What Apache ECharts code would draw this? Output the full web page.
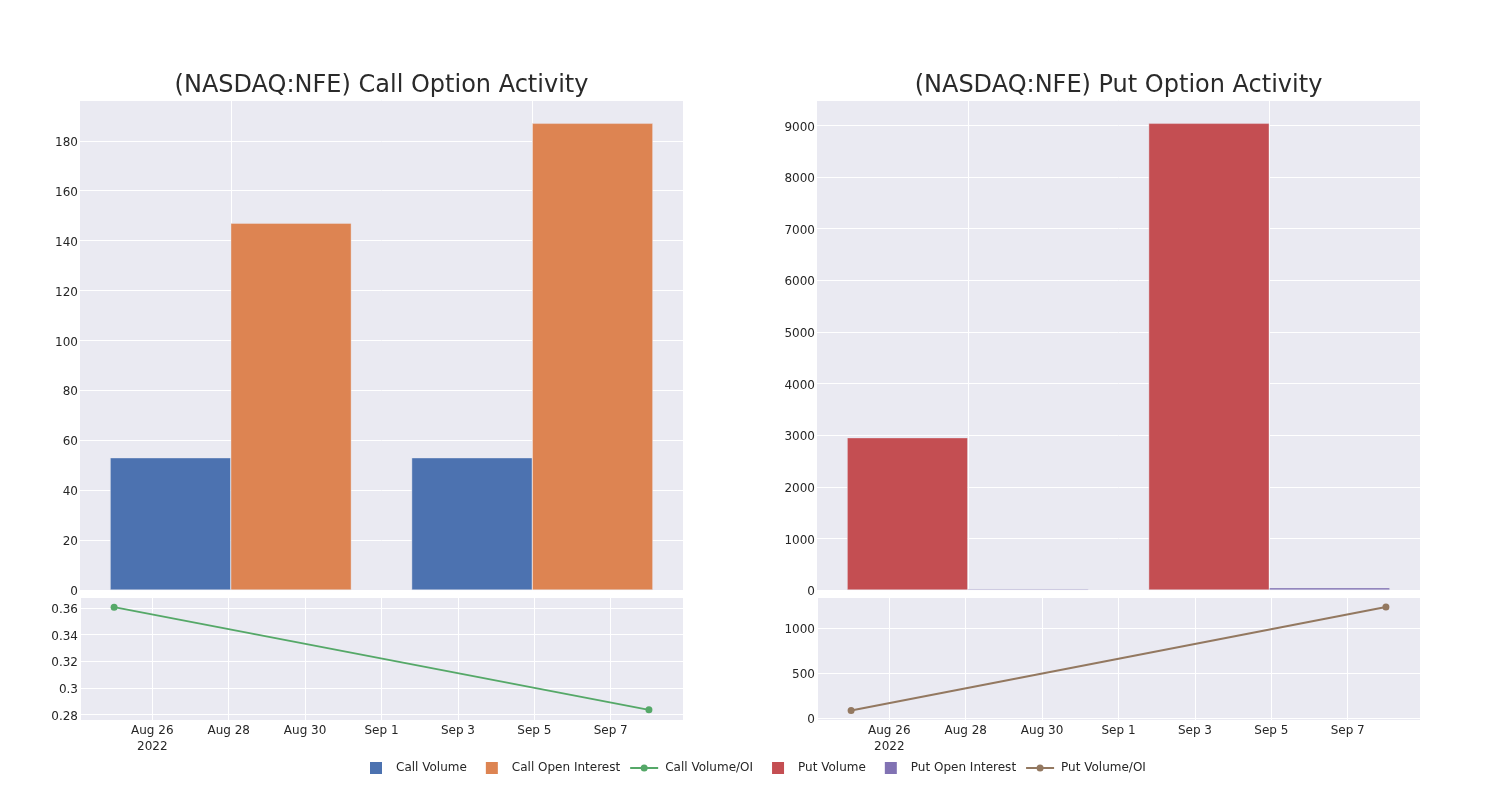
<!DOCTYPE html>
<html>
<head>
<meta charset="utf-8">
<script src="https://cdn.jsdelivr.net/npm/echarts@6/dist/echarts.min.js"></script>
<style>html,body{margin:0;padding:0;background:#fff;}#chart{width:1500px;height:800px;}</style>
</head>
<body>
<div id="chart"></div>
<script>
// ---- data ----
const barDates = ['2022-08-25', '2022-09-08'];
const callVolume = [53, 53];
const callOpenInterest = [147, 187];
const putVolume = [2950, 9040];
const putOpenInterest = [20, 45];
const lineDates = ['2022-08-25', '2022-09-08'];
const callVolumeOI = [0.3605, 0.2834];
const putVolumeOI = [85, 1233];
const titles = ['(NASDAQ:NFE) Call Option Activity', '(NASDAQ:NFE) Put Option Activity'];
const monthNames = ['Jan','Feb','Mar','Apr','May','Jun','Jul','Aug','Sep','Oct','Nov','Dec'];

// ---- helpers ----
const BASE = Date.UTC(2022, 7, 26);
const DAY = 86400000;
function dayOffset(s) { const p = s.split('-'); return (Date.UTC(+p[0], +p[1] - 1, +p[2]) - BASE) / DAY; }
function dateLabel(v) {
  if (Math.abs(v - Math.round(v)) > 1e-6) return '';
  const d = new Date(BASE + Math.round(v) * DAY);
  let s = monthNames[d.getUTCMonth()] + ' ' + d.getUTCDate();
  if (Math.round(v) === 0) s += '\n' + d.getUTCFullYear();
  return s;
}
function numLabel(v) { return String(+v.toPrecision(10)); }
const FONT = 'DejaVu Sans';
const TXT = '#262626';
const BG = '#eaeaf2';
const colors = { cv: '#4c72b0', coi: '#dd8452', cr: '#55a868', pv: '#c44e52', poi: '#8172b3', pr: '#937860' };

const lineX = lineDates.map(dayOffset);
const xMin = -1.893, xMax = 13.892;

const grids = [
  { left: 80, top: 100, width: 603, height: 490 },
  { left: 80, top: 597, width: 603, height: 123 },
  { left: 817, top: 100, width: 603, height: 490 },
  { left: 817, top: 597, width: 603, height: 123 }
].map(g => Object.assign(g, { show: true, backgroundColor: BG, borderWidth: 0, containLabel: false }));

const splitWhite = { show: true, lineStyle: { color: '#ffffff', width: 1 } };
const hidden = { axisLine: { show: false }, axisTick: { show: false }, axisLabel: { show: false } };

function barCatAxis(gi) {
  return Object.assign({ type: 'category', gridIndex: gi, data: barDates, boundaryGap: true, splitLine: { show: false } }, hidden);
}
function barGridAxis(gi) {
  return Object.assign({ type: 'category', gridIndex: gi, data: ['a','b','c','d','e'], boundaryGap: false,
    splitLine: { show: true, interval: (i) => i === 1 || i === 3, lineStyle: { color: '#ffffff', width: 1 } } }, hidden);
}
function timeAxis(gi) {
  return {
    type: 'value', gridIndex: gi, min: xMin, max: xMax, splitNumber: 8,
    axisLine: { show: false }, axisTick: { show: false },
    splitLine: splitWhite,
    axisLabel: { show: true, showMinLabel: false, showMaxLabel: false, margin: 3, color: TXT, fontFamily: FONT, fontSize: 12, lineHeight: 16, formatter: dateLabel }
  };
}
function yAxis(gi, opts, hideMin) {
  return Object.assign({
    type: 'value', gridIndex: gi,
    axisLine: { show: false }, axisTick: { show: false },
    splitLine: splitWhite,
    axisLabel: { show: true, showMinLabel: hideMin ? false : null, showMaxLabel: false, margin: 2,
      color: TXT, fontFamily: FONT, fontSize: 12, formatter: (v) => '{n|' + numLabel(v) + '}',
      rich: { n: { fontFamily: FONT, fontSize: 12, color: TXT, padding: [4, 0, 0, 0] } } }
  }, opts);
}
// legend icons: 30x12 box, square offset inside box; line spans 28px with a dot
const SQ = 'path://M0,0M30,12M9,0h12v12h-12z';
const LN = 'path://M0,0M30,12M0,5.1h10.6v1.8h-10.6zM17.4,5.1h10.6v1.8h-10.6zM10.5,6a3.5,3.5 0 1,1 7,0a3.5,3.5 0 1,1 -7,0z';

const option = {
  animation: false,
  backgroundColor: '#ffffff',
  textStyle: { fontFamily: FONT },
  title: [
    { text: titles[0], left: 381.5, top: 74, textAlign: 'center', padding: 0, textStyle: { fontFamily: FONT, fontSize: 24, fontWeight: 'normal', color: '#2a2a2a' } },
    { text: titles[1], left: 1118.5, top: 74, textAlign: 'center', padding: 0, textStyle: { fontFamily: FONT, fontSize: 24, fontWeight: 'normal', color: '#2a2a2a' } }
  ],
  legend: {
    bottom: 21, left: 356, itemWidth: 30, itemHeight: 12, itemGap: 10,
    textStyle: { fontFamily: FONT, fontSize: 12, color: TXT },
    itemStyle: { borderWidth: 0 },
    data: [
      { name: 'Call Volume', icon: SQ },
      { name: 'Call Open Interest', icon: SQ },
      { name: 'Call Volume/OI', icon: LN },
      { name: 'Put Volume', icon: SQ },
      { name: 'Put Open Interest', icon: SQ },
      { name: 'Put Volume/OI', icon: LN }
    ]
  },
  grid: grids,
  xAxis: [
    barCatAxis(0),
    timeAxis(1),
    barCatAxis(2),
    timeAxis(3),
    barGridAxis(0),
    barGridAxis(2)
  ],
  yAxis: [
    yAxis(0, { min: 0, max: 196.35, interval: 20 }, false),
    yAxis(1, { min: 0.2758, max: 0.3681, splitNumber: 5 }, true),
    yAxis(2, { min: 0, max: 9492, interval: 1000 }, false),
    yAxis(3, { min: -20, max: 1345, splitNumber: 3 }, true)
  ],
  series: [
    { name: 'Call Volume', type: 'bar', xAxisIndex: 0, yAxisIndex: 0, data: callVolume, barGap: '0%', barCategoryGap: '20%',
      itemStyle: { color: colors.cv, borderColor: 'rgba(234,234,242,0.8)', borderWidth: 0.5 } },
    { name: 'Call Open Interest', type: 'bar', xAxisIndex: 0, yAxisIndex: 0, data: callOpenInterest, barGap: '0%', barCategoryGap: '20%',
      itemStyle: { color: colors.coi, borderColor: 'rgba(234,234,242,0.8)', borderWidth: 0.5 } },
    { name: 'Call Volume/OI', type: 'line', xAxisIndex: 1, yAxisIndex: 1,
      data: lineX.map((x, i) => [x, callVolumeOI[i]]),
      symbol: 'circle', symbolSize: 7, showSymbol: true,
      lineStyle: { color: colors.cr, width: 2 }, itemStyle: { color: colors.cr } },
    { name: 'Put Volume', type: 'bar', xAxisIndex: 2, yAxisIndex: 2, data: putVolume, barGap: '0%', barCategoryGap: '20%',
      itemStyle: { color: colors.pv, borderColor: 'rgba(234,234,242,0.8)', borderWidth: 0.5 } },
    { name: 'Put Open Interest', type: 'bar', xAxisIndex: 2, yAxisIndex: 2, data: putOpenInterest, barGap: '0%', barCategoryGap: '20%',
      itemStyle: { color: colors.poi, borderColor: 'rgba(234,234,242,0.8)', borderWidth: 0.5 } },
    { name: 'Put Volume/OI', type: 'line', xAxisIndex: 3, yAxisIndex: 3,
      data: lineX.map((x, i) => [x, putVolumeOI[i]]),
      symbol: 'circle', symbolSize: 7, showSymbol: true,
      lineStyle: { color: colors.pr, width: 2 }, itemStyle: { color: colors.pr } }
  ]
};
const chart = echarts.init(document.getElementById('chart'), null, { renderer: 'canvas' });
chart.setOption(option);
</script>
</body>
</html>
